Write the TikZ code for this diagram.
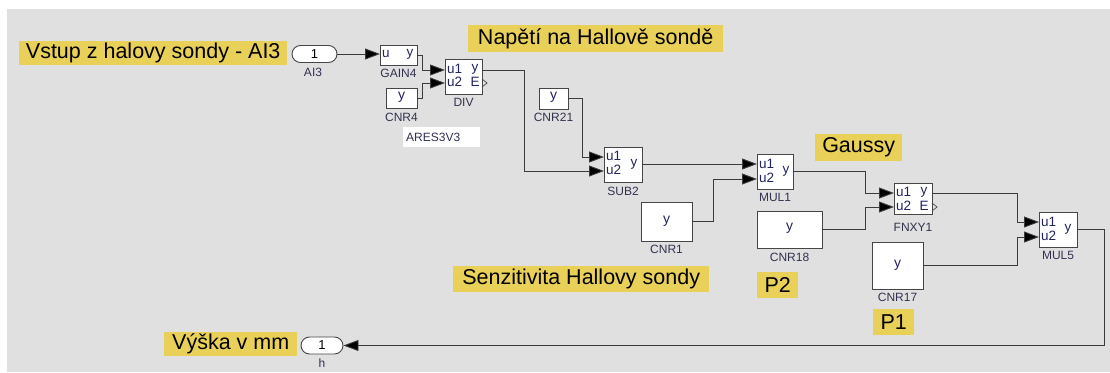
\documentclass[tikz,border=0pt]{standalone}
\usepackage{fontspec}
\setmainfont{Liberation Sans}
\usetikzlibrary{arrows.meta,shapes.misc}
\definecolor{bg}{RGB}{224,224,224}
\definecolor{yel}{RGB}{233,209,89}
\definecolor{wirec}{RGB}{60,60,60}
\definecolor{boxc}{RGB}{70,70,70}
\definecolor{labc}{RGB}{50,50,80}
\definecolor{portc}{RGB}{35,35,95}
\tikzset{
  wire/.style={draw=wirec, line width=0.9pt},
  arr/.style={wire, -{Triangle[length=15pt,width=11pt,fill=black]}},
  block/.style={draw=boxc, fill=white, line width=0.9pt, inner sep=0pt, outer sep=0pt, anchor=north west},
  lab/.style={font=\fontsize{12}{12}\selectfont, text=labc, inner sep=0pt},
  port/.style={font=\fontsize{13.5}{13.5}\selectfont, text=portc, inner sep=0pt},
  bigy/.style={font=\fontsize{14}{14}\selectfont, text=portc, inner sep=0pt},
  note/.style={fill=yel, font=\fontsize{21.5}{21.5}\selectfont, text=black, inner sep=0pt, anchor=north west},
  oval/.style={draw=boxc, fill=white, line width=0.9pt, rounded rectangle, inner sep=0pt, font=\fontsize{13}{13}\selectfont},
  etri/.style={draw=boxc, line width=0.7pt}
}
\newcommand\blk[5]{\node[block, minimum width=#4pt, minimum height=#5pt] (#1) at (#2,#3) {};}
\begin{document}
\begin{tikzpicture}[x=1pt,y=-1pt]
\useasboundingbox (0,0) rectangle (1110,372);
\fill[bg] (7,9) rectangle (1110,372);

% notes
\node[note, minimum width=268pt, minimum height=24pt] (n1) at (19,41) {Vstup z halovy sondy - AI3};
\node[note, minimum width=255pt, minimum height=27pt] (n2) at (468,25) {Napětí na Hallově sondě};
\node[note, minimum width=256pt, minimum height=26pt] (n3) at (453,266) {Senzitivita Hallovy sondy};
\node[note, minimum width=87pt, minimum height=27pt] (n4) at (815,134) {Gaussy};
\node[note, minimum width=41pt, minimum height=26pt] (n5) at (757,272) {P2};
\node[note, minimum width=41pt, minimum height=26pt] (n6) at (873,309) {P1};
\node[note, minimum width=133pt, minimum height=24pt] (n7) at (164,332) {Výška v mm};

% ports
\node[oval, minimum width=45pt, minimum height=17pt] (in1) at (314.5,54) {1};
\node[lab] (in1l) at (313,72) {AI3};
\node[oval, minimum width=42pt, minimum height=17pt] (out1) at (322,345.5) {1};
\node[lab] (out1l) at (322,363) {h};

% blocks
\blk{gain4}{380}{45}{37}{20}
\node[port, anchor=west] (gain4u) at (382,54) {u};
\node[port] (gain4y) at (410,54) {y};
\node[lab] (gain4l) at (398.5,73) {GAIN4};

\blk{cnr4}{386}{88}{31}{20}
\node[bigy] (cnr4y) at (401.5,97) {y};
\node[lab] (cnr4l) at (401.5,117) {CNR4};

\node[fill=white, minimum width=77pt, minimum height=20pt, inner sep=0pt, anchor=north west] (ares) at (403,127) {};
\node[lab, anchor=west] (arest) at (406,137) {ARES3V3};

\blk{div}{445}{59}{37}{35}
\node[port, anchor=west] (divu1) at (447,69) {u1};
\node[port, anchor=west] (divu2) at (447,82) {u2};
\node[port] (divy) at (475,69) {y};
\node[port] (dive) at (475,82) {E};
\node[lab] (divl) at (463.5,102) {DIV};
\draw[etri] (482,79) -- (487,83) -- (482,87);

\blk{cnr21}{539}{88}{29}{21}
\node[bigy] (cnr21y) at (553.5,97) {y};
\node[lab] (cnr21l) at (553.5,117) {CNR21};

\blk{sub2}{604}{147}{38}{35}
\node[port, anchor=west] (sub2u1) at (606,156) {u1};
\node[port, anchor=west] (sub2u2) at (606,170) {u2};
\node[port] (sub2y) at (634,164) {y};
\node[lab] (sub2l) at (623,191) {SUB2};

\blk{cnr1}{641}{202}{51}{39}
\node[bigy] (cnr1y) at (666.5,221) {y};
\node[lab] (cnr1l) at (666.5,249) {CNR1};

\blk{mul1}{757}{154}{36}{35}
\node[port, anchor=west] (mul1u1) at (759,164) {u1};
\node[port, anchor=west] (mul1u2) at (759,178) {u2};
\node[port] (mul1y) at (786,171) {y};
\node[lab] (mul1l) at (775,197) {MUL1};

\blk{cnr18}{757}{211}{65}{37}
\node[bigy] (cnr18y) at (789.5,228) {y};
\node[lab] (cnr18l) at (789.5,257) {CNR18};

\blk{fnxy}{894}{183}{38}{31}
\node[port, anchor=west] (fnxyu1) at (896,192) {u1};
\node[port, anchor=west] (fnxyu2) at (896,206) {u2};
\node[port] (fnxyy) at (924,192) {y};
\node[port] (fnxye) at (924,206) {E};
\node[lab] (fnxyl) at (913,227) {FNXY1};
\draw[etri] (932,203) -- (937,207) -- (932,211);

\blk{cnr17}{872}{242}{51}{47}
\node[bigy] (cnr17y) at (897.5,265) {y};
\node[lab] (cnr17l) at (897.5,297) {CNR17};

\blk{mul5}{1039}{212}{38}{35}
\node[port, anchor=west] (mul5u1) at (1041,222) {u1};
\node[port, anchor=west] (mul5u2) at (1041,236) {u2};
\node[port] (mul5y) at (1068,229) {y};
\node[lab] (mul5l) at (1058,255) {MUL5};

% port coordinates
\coordinate (gain4in) at (380,54);
\coordinate (div-u1) at (445,70);
\coordinate (div-u2) at (445,83);
\coordinate (div-out) at (482,70);
\coordinate (sub2-u1) at (604,157);
\coordinate (sub2-u2) at (604,171);
\coordinate (sub2-out) at (642,164);
\coordinate (mul1-u1) at (757,164);
\coordinate (mul1-u2) at (757,179);
\coordinate (mul1-out) at (793,171);
\coordinate (fnxy-u1) at (894,193);
\coordinate (fnxy-u2) at (894,207);
\coordinate (fnxy-out) at (932,193);
\coordinate (mul5-u1) at (1039,222);
\coordinate (mul5-u2) at (1039,237);
\coordinate (mul5-out) at (1077,229);

% connectors
\draw[arr] (in1.east) -- (gain4in);
\draw[arr] (gain4.east) -- ++(5,0) |- (div-u1);
\draw[arr] (cnr4.east) -- ++(5,0) |- (div-u2);
\draw[arr] (div-out) -- (524,70) |- (sub2-u2);
\draw[arr] (cnr21.east) -- ++(14,0) |- (sub2-u1);
\draw[arr] (sub2-out) -- (mul1-u1);
\draw[arr] (cnr1.east) -- ++(21,0) |- (mul1-u2);
\draw[arr] (mul1-out) -- (865,171) |- (fnxy-u1);
\draw[arr] (cnr18.east) -- ++(43,0) |- (fnxy-u2);
\draw[arr] (fnxy-out) -- (1017,193) |- (mul5-u1);
\draw[arr] (cnr17.east) -- ++(94,0) |- (mul5-u2);
\draw[arr] (mul5-out) -- (1104,229) |- (out1.east);
\end{tikzpicture}
\end{document}
